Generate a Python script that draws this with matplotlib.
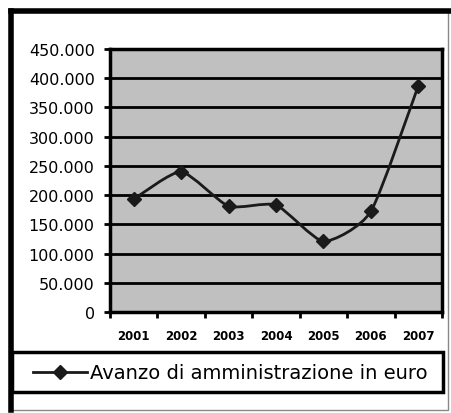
import numpy as np
import matplotlib.pyplot as plt
from matplotlib.path import Path
from matplotlib.patches import PathPatch, Rectangle
from matplotlib.lines import Line2D
from matplotlib.ticker import FuncFormatter

anni = ["2001", "2002", "2003", "2004", "2005", "2006", "2007"]
avanzo = [193000, 240000, 181000, 183000, 121000, 172000, 387000]
y_ticks = [0, 50000, 100000, 150000, 200000, 250000, 300000, 350000, 400000, 450000]
etichetta = "Avanzo di amministrazione in euro"

W, H = 451, 414
plt.rcParams['font.family'] = ['DejaVu Sans']

fig = plt.figure(figsize=(W / 100, H / 100), dpi=100)


def px(x0, y0, x1, y1):
    # rettangolo in pixel (origine in alto a sinistra) -> frazioni di figura
    return [x0 / W, 1 - y1 / H, (x1 - x0) / W, (y1 - y0) / H]


ax = fig.add_axes(px(110, 50, 442, 313))
ax.set_facecolor('#c0c0c0')

x = np.arange(len(anni))
y = np.array(avanzo, dtype=float)


def SmoothPath(x, y, k=10):
    # curva "smussata" tipo Excel: bezier cubiche passanti per i punti
    n = len(x)
    verts = [(x[0], y[0])]
    codes = [Path.MOVETO]
    for i in range(n - 1):
        i0 = max(i - 1, 0)
        i2 = min(i + 2, n - 1)
        c1 = (x[i] + (x[i + 1] - x[i0]) / k, y[i] + (y[i + 1] - y[i0]) / k)
        c2 = (x[i + 1] - (x[i2] - x[i]) / k, y[i + 1] - (y[i2] - y[i]) / k)
        verts += [c1, c2, (x[i + 1], y[i + 1])]
        codes += [Path.CURVE4] * 3
    return Path(verts, codes)


ax.add_patch(PathPatch(SmoothPath(x, y), facecolor='none', edgecolor='#1a1a1a', linewidth=2, zorder=3))
ax.plot(x, y, linestyle='None', marker='D', markersize=7, color='#1a1a1a', zorder=4)

ax.set_xlim(-0.5, len(anni) - 0.5)
ax.set_ylim(0, 450000)
ax.set_yticks(y_ticks)
ax.yaxis.set_major_formatter(FuncFormatter(lambda v, p: f"{int(v):,}".replace(",", ".")))
ax.yaxis.grid(True, color='black', linewidth=2)
ax.set_axisbelow(True)

ax.set_xticks(x)
ax.set_xticklabels(anni)
ax.set_xticks(np.arange(len(anni) + 1) - 0.5, minor=True)
ax.tick_params(axis='x', which='major', length=0, labelsize=8.5, pad=12)
ax.tick_params(axis='x', which='minor', length=4, width=2, direction='out')
ax.tick_params(axis='y', length=4, width=2, labelsize=11.5, pad=7)
for lab in ax.get_xticklabels():
    lab.set_fontweight('bold')
for s in ax.spines.values():
    s.set_linewidth(2.5)

# cornice esterna
fig.patches.append(Rectangle((10 / W, 1 - 411 / H), 438 / W, 399 / H, transform=fig.transFigure,
                             facecolor='none', edgecolor='#888888', linewidth=1))
fig.lines.append(Line2D([11 / W, 11 / W], [1 - 411 / H, 1 - 12 / H], transform=fig.transFigure,
                        color='black', linewidth=4))
fig.lines.append(Line2D([11 / W, 449 / W], [1 - 12 / H, 1 - 12 / H], transform=fig.transFigure,
                        color='black', linewidth=4))

# riquadro della legenda
b = px(12, 353, 443, 393)
fig.patches.append(Rectangle((b[0], b[1]), b[2], b[3], transform=fig.transFigure,
                             facecolor='white', edgecolor='black', linewidth=2.5))

handle = Line2D([], [], color='#1a1a1a', marker='D', markersize=7, linewidth=2)
leg = fig.legend([handle], [etichetta], loc='center left', bbox_to_anchor=(33 / W, 1 - 374 / H),
                 frameon=False, borderpad=0, borderaxespad=0, fontsize=14,
                 handlelength=2.8, handletextpad=0.12)

fig.savefig('out.png', dpi=100)
